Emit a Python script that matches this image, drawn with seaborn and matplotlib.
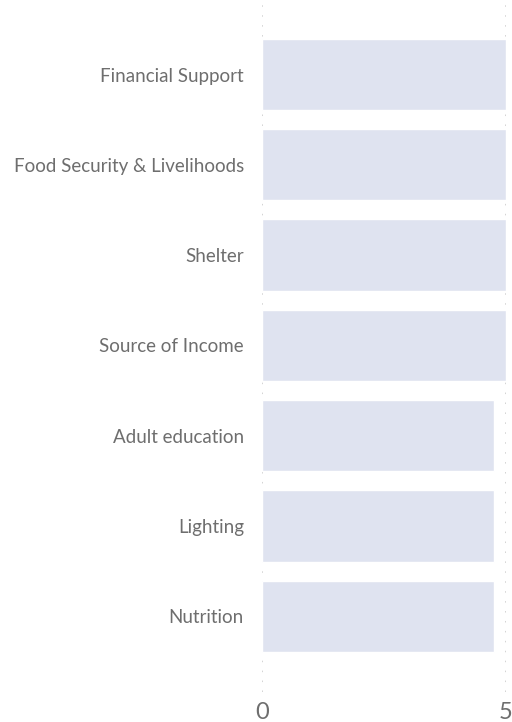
import matplotlib
matplotlib.use("Agg")
import matplotlib.pyplot as plt
import seaborn as sns
import pandas as pd

# data
categories = ["Financial Support", "Food Security & Livelihoods", "Shelter",
              "Source of Income", "Adult education", "Lighting", "Nutrition"]
values = [5, 5, 5, 5, 4.75, 4.75, 4.75]
x_ticks = [0, 5]

df = pd.DataFrame({"category": categories, "value": values})

sns.set_style("white")
plt.rcParams['font.family'] = ['Lato', 'DejaVu Sans']

fig = plt.figure(figsize=(5.12, 7.22), dpi=100)
ax = fig.add_axes([262 / 512, 30 / 722, 244 / 512, 687 / 722])

sns.barplot(data=df, x="value", y="category", orient="h", color="#dfe3f0",
            saturation=1, width=0.79, ax=ax)

ax.set_xlim(0, 5)
ax.set_ylim(6.84, -0.77)
ax.set_xticks(x_ticks)
ax.set_xlabel("")
ax.set_ylabel("")

ax.set_axisbelow(True)
ax.xaxis.grid(True, color="#c8c8c8", linewidth=1.1, linestyle=(0, (1, 5.5)))
ax.yaxis.grid(False)
for s in ax.spines.values():
    s.set_visible(False)

ax.tick_params(axis="y", length=0, pad=13, labelsize=13.5, labelcolor="#6e6e6e")
ax.tick_params(axis="x", length=0, pad=7, labelsize=17, labelcolor="#6e6e6e")

fig.savefig("out.png", dpi=100)
